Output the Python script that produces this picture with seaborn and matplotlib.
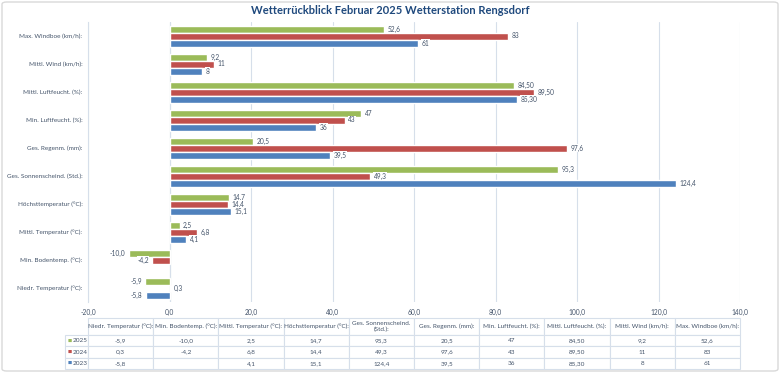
import numpy as np
import pandas as pd
import matplotlib
matplotlib.use("Agg")
import matplotlib.pyplot as plt
import seaborn as sns
from matplotlib.patches import FancyBboxPatch
from matplotlib.ticker import FuncFormatter

# Kategorien von oben nach unten wie im Diagramm
categories = [
    "Max. Windboe (km/h):",
    "Mittl. Wind (km/h):",
    "Mittl. Luftfeucht. (%):",
    "Min. Luftfeucht. (%):",
    "Ges. Regenm. (mm):",
    "Ges. Sonnenscheind. (Std.):",
    "Höchsttemperatur (°C):",
    "Mittl. Temperatur (°C):",
    "Min. Bodentemp. (°C):",
    "Niedr. Temperatur (°C):",
]
years = ["2025", "2024", "2023"]

# Werte wie in der Datentabelle (deutsches Zahlenformat)
vals_2025 = ["52,6", "9,2", "84,50", "47", "20,5", "95,3", "14,7", "2,5", "-10,0", "-5,9"]
vals_2024 = ["83", "11", "89,50", "43", "97,6", "49,3", "14,4", "6,8", "-4,2", "0,3"]
vals_2023 = ["61", "8", "85,30", "36", "39,5", "124,4", "15,1", "4,1", "", "-5,8"]

colors = {"2025": "#9BBB59", "2024": "#C0504D", "2023": "#4F81BD"}
txt = "#44546A"
grid_col = "#D6DFEA"
fs = 4.6


def to_num(s):
    return float(s.replace(",", ".")) if s else np.nan


rows = []
for yr, vals in zip(years, [vals_2025, vals_2024, vals_2023]):
    for cat, v in zip(categories, vals):
        rows.append({"Kategorie": cat, "Jahr": yr, "Wert": to_num(v), "Text": v})
df = pd.DataFrame(rows)
lookup = {(r.Kategorie, r.Jahr): r.Text for r in df.itertuples()}

sns.set_style("white")
plt.rcParams["font.family"] = ["Lato", "DejaVu Sans"]

W, H = 780, 373
fig = plt.figure(figsize=(W / 100, H / 100), dpi=100)
ax = fig.add_axes([88 / W, 1 - 302 / H, 652 / W, 280 / H])

sns.barplot(data=df, y="Kategorie", x="Wert", hue="Jahr", order=categories,
            hue_order=years, palette=colors, orient="h", width=0.75,
            errorbar=None, saturation=1, legend=False, ax=ax)

# Datenbeschriftungen
for cont, yr in zip(ax.containers, years):
    labels = []
    for bar in cont:
        idx = int(round(bar.get_y() + bar.get_height() / 2))
        labels.append(lookup[(categories[idx], yr)])
    ax.bar_label(cont, labels=labels, padding=2.5, fontsize=fs + 0.2, color=txt,
                 bbox=dict(fc="white", ec="none", pad=0.4))

ax.set_xlim(-20, 140)
ax.set_xticks(range(-20, 141, 20))
ax.xaxis.set_major_formatter(FuncFormatter(lambda v, p: f"{v:.1f}".replace(".", ",")))
ax.grid(axis="x", color=grid_col, lw=0.8)
ax.axvline(0, color=grid_col, lw=0.8, zorder=0)
ax.set_axisbelow(True)
for s in ["top", "right", "bottom"]:
    ax.spines[s].set_visible(False)
ax.spines["left"].set_color(grid_col)
ax.tick_params(axis="x", length=0, labelsize=fs + 0.2, colors=txt, pad=5)
ax.tick_params(axis="y", length=0, labelsize=fs, colors=txt, pad=4)
ax.set_xlabel("")
ax.set_ylabel("")

# Datentabelle unter dem Diagramm
table_cats = categories[::-1]
headers = [c.replace("Sonnenscheind. ", "Sonnenscheind.\n") for c in table_cats]
cell_text = [[""] + v[::-1] for v in [vals_2025, vals_2024, vals_2023]]
tbl = ax.table(cellText=cell_text, colLabels=[""] + headers, cellLoc="center",
               colWidths=[23] + [65.2] * 10,
               bbox=[-23 / 652, (302 - 369) / 280, 1 + 23 / 652, (369 - 318) / 280])
tbl.auto_set_font_size(False)
tbl.set_fontsize(fs)
for (r, c), cell in tbl.get_celld().items():
    cell.set_edgecolor(grid_col)
    cell.set_linewidth(0.8)
    cell.get_text().set_color(txt)
    cell.set_height(17 if r == 0 else 11.3)
tbl[(0, 0)].visible_edges = "open"

# Legendenschluessel in der ersten Tabellenspalte
fig.canvas.draw()
px = 1 / 652
for i, yr in enumerate(years):
    cell = tbl[(i + 1, 0)]
    yc = cell.get_y() + cell.get_height() / 2
    ax.text(cell.get_x() + 4.5 * px, yc, "■", color=colors[yr], fontsize=3.2,
            ha="center", va="center", transform=ax.transAxes, family=["DejaVu Sans"])
    ax.text(cell.get_x() + 7.5 * px, yc, yr, color=txt, fontsize=fs,
            ha="left", va="center", transform=ax.transAxes)

fig.text(0.5, 1 - 11 / H, "Wetterrückblick Februar 2025 Wetterstation Rengsdorf",
         ha="center", va="center", fontsize=8, fontweight="bold", color="#1F497D")

fig.patches.append(FancyBboxPatch((2 / W, 2 / H), 776 / W, 369 / H,
                                  boxstyle="round,pad=0,rounding_size=0.006",
                                  transform=fig.transFigure, fc="none",
                                  ec="#D9D9D9", lw=1))

fig.savefig("out.png", dpi=100)
